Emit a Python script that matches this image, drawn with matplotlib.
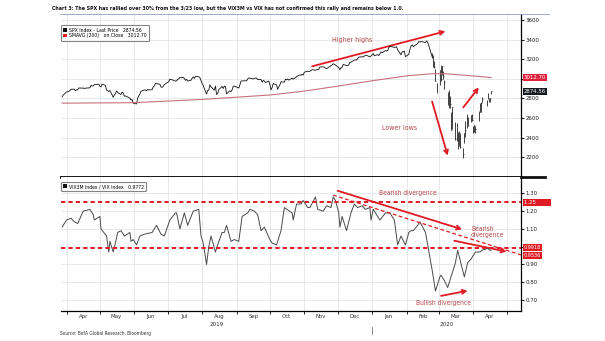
import matplotlib
matplotlib.use("Agg")
import matplotlib.pyplot as plt
import matplotlib.dates as mdates
import matplotlib.transforms as mtransforms
from matplotlib.patches import Patch, FancyArrowPatch
from matplotlib.lines import Line2D
import numpy as np
import pandas as pd

plt.rcParams["font.family"] = ["Liberation Sans Narrow", "DejaVu Sans"]
plt.rcParams["font.stretch"] = "condensed"

# --- data ---
HOLIDAYS = ["2019-04-19", "2019-05-27", "2019-07-04", "2019-09-02", "2019-11-28",
            "2019-12-25", "2020-01-01", "2020-01-20", "2020-02-17", "2020-04-10"]

spx_close = {
    "2019-03": [2815, 2834],
    "2019-04": [2867, 2867, 2873, 2879, 2893, 2895, 2878, 2888, 2888, 2907, 2905,
                2907, 2900, 2905, 2908, 2934, 2927, 2926, 2940, 2943, 2946],
    "2019-05": [2924, 2918, 2946, 2932, 2884, 2880, 2871, 2881, 2812, 2835, 2851,
                2877, 2860, 2840, 2864, 2857, 2823, 2826, 2803, 2783, 2789, 2752],
    "2019-06": [2744, 2804, 2826, 2843, 2873, 2886, 2885, 2879, 2891, 2887, 2889,
                2918, 2926, 2954, 2950, 2945, 2917, 2913, 2924, 2942],
    "2019-07": [2964, 2973, 2996, 2990, 2976, 2980, 2993, 3000, 3014, 3014, 3004,
                2985, 2995, 2977, 2985, 3005, 3019, 3004, 3026, 3020, 3013, 2980],
    "2019-08": [2953, 2932, 2844, 2882, 2884, 2938, 2919, 2883, 2926, 2841, 2848,
                2889, 2923, 2901, 2925, 2923, 2847, 2878, 2870, 2887, 2924, 2926],
    "2019-09": [2906, 2938, 2976, 2979, 2979, 2980, 2999, 3009, 3007, 2998, 3006,
                3006, 3007, 2992, 2992, 2966, 2984, 2977, 2962, 2977],
    "2019-10": [2940, 2888, 2910, 2952, 2938, 2893, 2919, 2938, 2970, 2966, 2996,
                2990, 2998, 2986, 3007, 2996, 3005, 3010, 3023, 3039, 3036, 3047, 3038],
    "2019-11": [3067, 3078, 3075, 3077, 3085, 3093, 3087, 3092, 3094, 3097, 3120,
                3122, 3120, 3108, 3104, 3110, 3134, 3141, 3154, 3141],
    "2019-12": [3114, 3093, 3113, 3117, 3146, 3136, 3133, 3142, 3169, 3169, 3191,
                3192, 3191, 3205, 3221, 3224, 3223, 3240, 3240, 3222, 3231],
    "2020-01": [3258, 3235, 3246, 3237, 3253, 3275, 3265, 3288, 3283, 3289, 3317,
                3330, 3321, 3321, 3326, 3295, 3244, 3276, 3273, 3284, 3226],
    "2020-02": [3249, 3298, 3334, 3346, 3328, 3352, 3358, 3379, 3374, 3380, 3370,
                3386, 3373, 3338, 3226, 3128, 3116, 2979, 2954],
    "2020-03": [3090, 3003, 3130, 3024, 2972, 2747, 2882, 2741, 2481, 2711, 2386,
                2529, 2398, 2409, 2305, 2237, 2447, 2476, 2630, 2541, 2627, 2585],
    "2020-04": [2471, 2527, 2489, 2664, 2659, 2750, 2790, 2762, 2846, 2783, 2800, 2875],
}

# daily high / low bars from 2020-02-24 on
bar_high = [3259, 3246, 3182, 3098, 2959,
            3091, 3137, 3131, 3084, 2985, 2863, 2883, 2825, 2660, 2711, 2563, 2553,
            2454, 2466, 2453, 2300, 2450, 2572, 2637, 2615, 2632, 2641,
            2522, 2533, 2515, 2677, 2756, 2760, 2819, 2782, 2853, 2802, 2807, 2880]
bar_low = [3215, 3118, 3108, 2978, 2855,
           2942, 2977, 3034, 2999, 2901, 2734, 2699, 2707, 2478, 2493, 2380, 2367,
           2281, 2319, 2295, 2192, 2345, 2407, 2501, 2520, 2556, 2571,
           2447, 2455, 2447, 2575, 2657, 2663, 2762, 2722, 2795, 2760, 2765, 2842]

sma_dates = ["2019-03-28", "2019-06-01", "2019-08-01", "2019-10-01", "2019-11-01",
             "2019-12-01", "2020-01-01", "2020-02-01", "2020-02-24", "2020-03-09",
             "2020-03-31", "2020-04-17"]
sma_vals = [2752, 2757, 2790, 2835, 2875, 2925, 2980, 3030, 3052, 3050, 3030, 3012.7]

vix_dates = [
    "2019-03-28", "2019-04-01", "2019-04-05", "2019-04-08", "2019-04-11", "2019-04-16",
    "2019-04-22", "2019-04-25", "2019-04-26", "2019-05-01", "2019-05-02", "2019-05-07",
    "2019-05-09", "2019-05-10", "2019-05-13", "2019-05-15", "2019-05-17", "2019-05-20",
    "2019-05-23", "2019-05-28", "2019-05-29", "2019-05-31", "2019-06-03", "2019-06-06",
    "2019-06-10", "2019-06-17", "2019-06-21", "2019-06-25", "2019-06-28", "2019-07-03",
    "2019-07-08", "2019-07-09", "2019-07-12", "2019-07-16", "2019-07-19", "2019-07-24",
    "2019-07-29", "2019-07-31", "2019-08-02", "2019-08-05", "2019-08-07", "2019-08-09",
    "2019-08-13", "2019-08-15", "2019-08-19", "2019-08-21", "2019-08-23", "2019-08-27",
    "2019-08-30", "2019-09-03", "2019-09-06", "2019-09-11", "2019-09-13", "2019-09-17",
    "2019-09-20", "2019-09-23", "2019-09-26", "2019-10-01", "2019-10-03", "2019-10-07",
    "2019-10-11", "2019-10-14", "2019-10-21", "2019-10-22", "2019-10-25", "2019-10-29",
    "2019-10-31", "2019-11-04", "2019-11-06", "2019-11-11", "2019-11-13", "2019-11-18",
    "2019-11-21", "2019-11-25", "2019-11-27", "2019-11-29", "2019-12-02", "2019-12-03",
    "2019-12-05", "2019-12-09", "2019-12-13", "2019-12-16", "2019-12-19", "2019-12-23",
    "2019-12-26", "2019-12-30", "2019-12-31", "2020-01-02", "2020-01-06", "2020-01-08",
    "2020-01-13", "2020-01-17", "2020-01-21", "2020-01-24", "2020-01-27", "2020-01-31",
    "2020-02-03", "2020-02-05", "2020-02-07", "2020-02-11", "2020-02-13", "2020-02-18",
    "2020-02-20", "2020-02-24", "2020-02-27", "2020-03-02", "2020-03-03", "2020-03-06",
    "2020-03-09", "2020-03-12", "2020-03-16", "2020-03-18", "2020-03-20", "2020-03-24",
    "2020-03-27", "2020-03-30", "2020-04-01", "2020-04-03", "2020-04-07", "2020-04-09",
    "2020-04-14", "2020-04-17"]
vix_vals = [
    1.11, 1.15, 1.16, 1.14, 1.13, 1.20, 1.21, 1.18, 1.15, 1.17, 1.10, 1.06,
    0.97, 1.03, 0.97, 1.02, 1.08, 1.09, 1.06, 1.08, 1.03, 1.04, 1.01, 1.06,
    1.07, 1.08, 1.12, 1.07, 1.06, 1.15, 1.19, 1.19, 1.10, 1.19, 1.12, 1.20,
    1.21, 1.06, 1.02, 0.90, 1.00, 1.06, 0.97, 1.01, 1.08, 1.08, 1.12, 1.03,
    1.04, 1.03, 1.17, 1.19, 1.21, 1.20, 1.18, 1.09, 1.11, 1.04, 1.02, 1.01,
    1.09, 1.22, 1.19, 1.15, 1.24, 1.24, 1.26, 1.22, 1.22, 1.28, 1.21, 1.20,
    1.23, 1.22, 1.28, 1.26, 1.19, 1.11, 1.17, 1.09, 1.19, 1.24, 1.22, 1.23,
    1.21, 1.22, 1.15, 1.21, 1.17, 1.15, 1.19, 1.19, 1.15, 1.01, 1.06, 1.01,
    1.08, 1.09, 1.09, 1.12, 1.14, 1.08, 1.01, 0.87, 0.75, 0.83, 0.84, 0.81,
    0.77, 0.83, 0.91, 0.98, 0.93, 0.83, 0.91, 0.93, 0.95, 0.97, 0.97, 0.98,
    0.99, 0.9772]

upper_level = 1.25
lower_level = 0.9918
trend_dates = ["2019-11-27", "2020-05-14"]
trend_vals = [1.29, 0.9536]

RED = "#e01b24"
TXT_RED = "#b5464b"
TITLE = ("Chart 3: The SPX has rallied over 30% from the 3/23 low, but the VIX3M vs VIX "
         "has not confirmed this rally and remains below 1.0.")

# --- build daily dates ---
all_days = pd.bdate_range("2019-03-28", "2020-04-17", freq="C", holidays=HOLIDAYS)
spx_dates, spx_vals = [], []
for key, vals in spx_close.items():
    days = all_days[all_days.strftime("%Y-%m") == key]
    spx_dates.extend(days[:len(vals)])
    spx_vals.extend(vals[:len(days)])
spx_dates = pd.DatetimeIndex(spx_dates)
spx_vals = np.array(spx_vals, dtype=float)
bar_start = int(np.searchsorted(spx_dates, pd.Timestamp("2020-02-24")))
bar_dates = spx_dates[bar_start:bar_start + len(bar_high)]

fig = plt.figure(figsize=(6.05, 3.41), dpi=100)
W, H = 605, 341
L, R = 61 / W, 521 / W
ax1 = fig.add_axes([L, 1 - 177 / H, R - L, 163 / H])
ax2 = fig.add_axes([L, 1 - 311 / H, R - L, 134 / H], sharex=ax1)

x0, x1 = pd.Timestamp("2019-03-27"), pd.Timestamp("2020-05-14")

# --- top panel: SPX ---
ax1.plot(spx_dates[:bar_start + 1], spx_vals[:bar_start + 1], color="#111111", lw=0.6)
ax1.vlines(bar_dates, bar_low, bar_high, color="#222222", lw=0.6)
ax1.hlines(spx_vals[bar_start:bar_start + len(bar_high)], bar_dates,
           bar_dates + pd.Timedelta(hours=14), color="#222222", lw=0.5)
ax1.plot(pd.to_datetime(sma_dates), sma_vals, color="#c9707c", lw=0.8)
ax1.set_ylim(2000, 3660)
ax1.set_yticks(np.arange(2200, 3601, 200))
# the 3000 label sits under the SMA tag
ax1.yaxis.set_major_formatter(plt.FuncFormatter(lambda v, p: "" if abs(v - 3000) < 1 else f"{v:.0f}"))

# --- bottom panel: VIX3M / VIX ---
ax2.plot(pd.to_datetime(vix_dates), vix_vals, color="#4a4a4a", lw=0.7)
ax2.axhline(upper_level, color=RED, lw=1.4, ls=(0, (2.2, 1.6)))
ax2.axhline(lower_level, color=RED, lw=1.4, ls=(0, (2.2, 1.6)))
ax2.plot(pd.to_datetime(trend_dates), trend_vals, color=RED, lw=0.9, ls=(0, (3, 2)))
ax2.set_ylim(0.638, 1.392)
ax2.set_yticks(np.arange(0.7, 1.31, 0.1))
ax2.yaxis.set_major_formatter(plt.FuncFormatter(lambda v, p: "" if abs(v - 1.0) < 0.01 else f"{v:.2f}"))

for ax in (ax1, ax2):
    ax.set_xlim(x0, x1)
    ax.yaxis.tick_right()
    ax.tick_params(axis="y", length=2, width=0.8, labelsize=4.3, pad=1.5, colors="#222222")
    ax.xaxis.set_major_locator(mdates.MonthLocator())
    ax.grid(True, color="#dedede", lw=0.5)
    ax.set_axisbelow(True)
    for s in ("left", "top"):
        ax.spines[s].set_visible(False)
    ax.spines["right"].set_linewidth(0.9)

ax2.xaxis.set_minor_locator(mdates.MonthLocator(bymonthday=16))
ax2.xaxis.set_minor_formatter(mdates.DateFormatter("%b"))
ax1.tick_params(axis="x", which="both", length=0, labelbottom=False)
ax1.spines["bottom"].set_linewidth(2.0)
ax2.spines["bottom"].set_linewidth(0.9)
ax2.tick_params(axis="x", which="major", length=2, width=0.6, labelbottom=False)
ax2.tick_params(axis="x", which="minor", length=0, labelsize=4.3, pad=2, colors="#333333",
                labelbottom=True)

# year labels and separator
trans = mtransforms.blended_transform_factory(ax2.transData, ax2.transAxes)
ax2.text(pd.Timestamp("2019-08-14"), -0.085, "2019", transform=trans, ha="center",
         va="top", fontsize=4.5, color="#333333")
ax2.text(pd.Timestamp("2020-03-08"), -0.085, "2020", transform=trans, ha="center",
         va="top", fontsize=4.5, color="#333333")
ax2.plot([pd.Timestamp("2020-01-01")] * 2, [-0.12, -0.17], transform=trans,
         color="#555555", lw=0.5, clip_on=False)

# legends
leg_kw = dict(loc="upper left", fontsize=3.7, handlelength=0.7, handleheight=0.7,
              handletextpad=0.4, borderpad=0.45, labelspacing=0.15, frameon=True,
              fancybox=True, borderaxespad=0)
leg1 = ax1.legend(handles=[Patch(fc="#111111", ec="none"), Patch(fc=RED, ec="none")],
                  labels=["SPX Index - Last Price   2874.56", "SMAVG (200)   on Close   3012.70"],
                  bbox_to_anchor=(0.0, 0.93), **leg_kw)
leg2 = ax2.legend(handles=[Patch(fc="#111111", ec="none")],
                  labels=["VIX3M Index / VIX Index   0.9772"],
                  bbox_to_anchor=(0.0, 0.965), **leg_kw)
for leg in (leg1, leg2):
    leg.get_frame().set_edgecolor("#666666")
    leg.get_frame().set_linewidth(0.8)

# last value tags on the right axis
def tag(ax, y, label, color, fs=4.3):
    tr = mtransforms.blended_transform_factory(ax.transAxes, ax.transData)
    ax.text(1.006, y, label, transform=tr, ha="left", va="center", fontsize=fs,
            color="white", clip_on=False,
            bbox=dict(boxstyle="square,pad=0.15", fc=color, ec="none"))

tag(ax1, 3012.7, "3012.70", "#e0203c")
tag(ax1, 2874.56, "2874.56", "#151a22")
tag(ax2, upper_level, "1.25        ", RED)
tag(ax2, lower_level + 0.004, "0.9918", RED, 4.0)
tag(ax2, trend_vals[-1] - 0.004, "0.9536", RED, 4.0)

# annotation arrows
def arrow(ax, start, end):
    (d0, v0), (d1, v1) = start, end
    ax.add_patch(FancyArrowPatch((mdates.date2num(pd.Timestamp(d0)), v0),
                                 (mdates.date2num(pd.Timestamp(d1)), v1),
                                 arrowstyle="->", color=RED, lw=1.3, shrinkA=0, shrinkB=0,
                                 mutation_scale=7))

ts = pd.Timestamp
arrow(ax1, ("2019-11-08", 3127), ("2020-03-07", 3484))
arrow(ax1, ("2020-02-24", 2769), ("2020-03-09", 2218))
arrow(ax1, ("2020-03-23", 2708), ("2020-04-06", 2912))
ax1.text(ts("2019-12-14"), 3392, "Higher highs", color=TXT_RED, fontsize=5.0, ha="center", va="center")
ax1.text(ts("2020-01-26"), 2504, "Lower lows", color=TXT_RED, fontsize=5.0, ha="center", va="center")

arrow(ax2, ("2019-12-01", 1.3146), ("2020-03-22", 1.0975))
arrow(ax2, ("2020-03-15", 1.0333), ("2020-05-01", 0.972))
arrow(ax2, ("2020-03-03", 0.723), ("2020-03-27", 0.752))
ax2.text(ts("2020-02-02"), 1.30, "Bearish divergence", color=TXT_RED, fontsize=4.8, ha="center", va="center")
ax2.text(ts("2020-03-30"), 1.084, "Bearish\ndivergence", color=TXT_RED, fontsize=4.8,
         ha="left", va="center", linespacing=1.0)
ax2.text(ts("2020-03-05"), 0.681, "Bullish divergence", color=TXT_RED, fontsize=4.8, ha="center", va="center")

# title, rule and source; sized to the widths they take in the chart
title = fig.text(52 / W, 1 - 8.5 / H, TITLE, fontsize=5.6, fontweight="bold",
                 ha="left", va="center", color="#111111")
source = fig.text(60 / W, 1 - 334 / H, "Source: BofA Global Research, Bloomberg",
                  fontsize=4.2, ha="left", va="center", color="#333333")
fig.canvas.draw()
for t, target in ((title, 344), (source, 92)):
    w = t.get_window_extent().width
    t.set_fontsize(t.get_fontsize() * target / w)

fig.add_artist(Line2D([60 / W, 549 / W], [1 - 14 / H] * 2, color="#8d9cc4", lw=0.6))
fig.add_artist(Line2D([R, 545 / W], [1 - 177 / H] * 2, color="#111111", lw=2.0))

fig.savefig("out.png", dpi=100)
